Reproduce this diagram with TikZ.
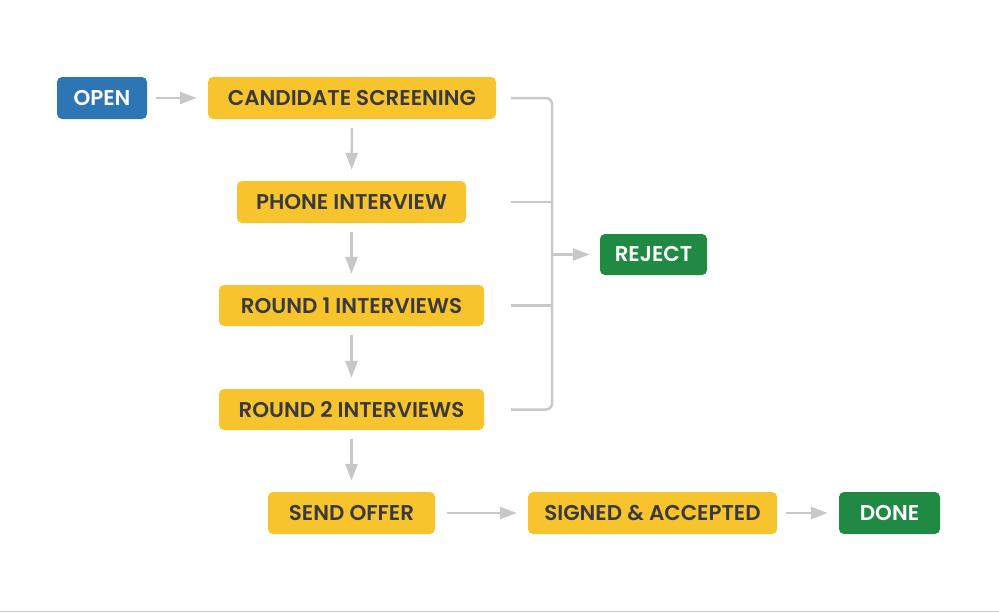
\documentclass[tikz,border=0pt]{standalone}
\usepackage{fontspec}
\setmainfont{Poppins SemiBold}
\usetikzlibrary{arrows.meta}
\definecolor{yel}{RGB}{247,196,46}
\definecolor{grn}{RGB}{32,137,68}
\definecolor{blu}{RGB}{46,117,182}
\definecolor{txt}{RGB}{58,58,58}
\definecolor{lgray}{RGB}{200,200,200}
\tikzset{
  box/.style={rounded corners=5pt, inner sep=0pt, font=\fontsize{21.4}{21.4}\selectfont, minimum height=42pt},
  ybox/.style={box, fill=yel, text=txt},
  gbox/.style={box, fill=grn, text=white},
  bbox/.style={box, fill=blu, text=white},
  conn/.style={draw=lgray, line width=2.5pt},
  arr/.style={conn, -{Triangle[length=17pt,width=12pt]}, shorten <=9pt, shorten >=11pt},
}
\begin{document}
\begin{tikzpicture}[x=1pt,y=-1pt]
\useasboundingbox (0,0) rectangle (999,613);
\node[bbox, minimum width=90pt] (open) at (102,98) {OPEN};
\node[ybox, minimum width=288pt] (cs) at (352,98) {CANDIDATE SCREENING};
\node[ybox, minimum width=229pt] (phone) at (351.5,202) {PHONE INTERVIEW};
\node[ybox, minimum width=265pt, minimum height=41pt] (r1) at (351.5,305.5) {ROUND 1 INTERVIEWS};
\node[ybox, minimum width=265pt, minimum height=41pt] (r2) at (351.5,409.5) {ROUND 2 INTERVIEWS};
\node[ybox, minimum width=167pt] (send) at (351.5,513) {SEND OFFER};
\node[ybox, minimum width=249pt] (signed) at (652.5,513) {SIGNED \& ACCEPTED};
\node[gbox, minimum width=101pt] (done) at (889.5,513) {DONE};
\node[gbox, minimum width=107pt, minimum height=41pt] (reject) at (653.5,254.5) {REJECT};
\coordinate (bx) at (511,0);
\coordinate (by) at (552,0);
\draw[arr] (open) -- (cs);
\draw[arr] (cs) -- (phone);
\draw[arr] (phone) -- (r1);
\draw[arr] (r1) -- (r2);
\draw[arr] (r2) -- (send);
\draw[arr, shorten <=12pt] (send) -- (signed);
\draw[arr] (signed) -- (done);
\draw[conn, rounded corners=6pt] (cs.east -| bx) -- (cs.east -| by) -- (r2.east -| by) -- (r2.east -| bx);
\draw[conn] (phone.east -| bx) -- (phone.east -| by);
\draw[conn] (r1.east -| bx) -- (r1.east -| by);
\draw[arr, shorten <=0pt, shorten >=10pt] (reject.west -| by) -- (reject.west);
\draw[lgray, line width=1.5pt] (0,611.5) -- (999,611.5);
\end{tikzpicture}
\end{document}
